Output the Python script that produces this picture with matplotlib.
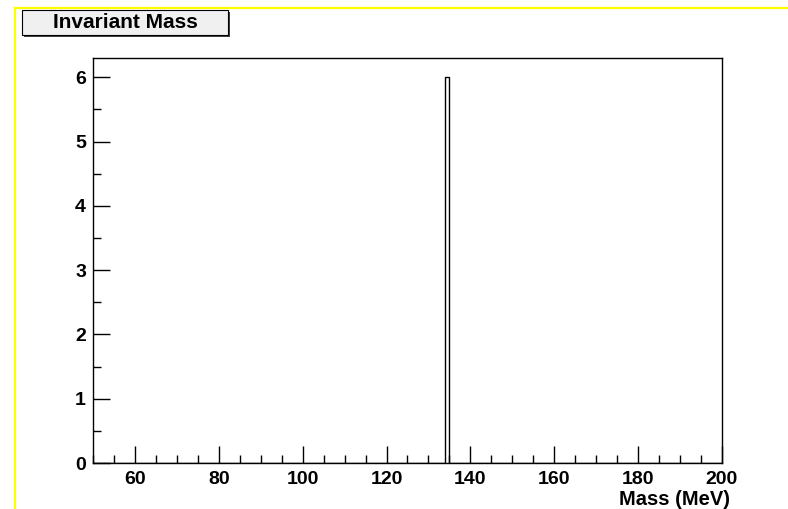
import matplotlib
matplotlib.use("Agg")
import matplotlib.pyplot as plt
import numpy as np
from matplotlib.patches import Rectangle
from matplotlib.lines import Line2D
from matplotlib.ticker import MultipleLocator

# histogram: 1 MeV bins from 50 to 200, all entries in the 134-135 bin
bin_edges = np.arange(50, 201, 1)
counts = np.zeros(len(bin_edges) - 1)
peak_bin = 134
peak_count = 6
counts[peak_bin - 50] = peak_count

title = "Invariant Mass"
xlabel = "Mass (MeV)"

W, H = 788, 509
fig = plt.figure(figsize=(W / 100, H / 100), dpi=100)
plt.rcParams['font.family'] = ['Liberation Sans', 'DejaVu Sans']

# yellow pad frame
fig.add_artist(Line2D([15 / W, 1], [1 - 8 / H, 1 - 8 / H], color='#ffff00', lw=1.6))
fig.add_artist(Line2D([15 / W, 15 / W], [0, 1 - 8 / H], color='#ffff00', lw=1.6))

ax = fig.add_axes([93 / W, 46 / H, (722 - 93) / W, (463 - 58) / H])
ax.stairs(counts, bin_edges, color='black', lw=1)
ax.set_xlim(50, 200)
ax.set_ylim(0, 6.3)

ax.xaxis.set_major_locator(MultipleLocator(20))
ax.xaxis.set_minor_locator(MultipleLocator(5))
ax.yaxis.set_major_locator(MultipleLocator(1))
ax.yaxis.set_minor_locator(MultipleLocator(0.5))
ax.tick_params(which='both', direction='in', top=False, right=False, width=1)
ax.tick_params(which='major', length=12, labelsize=14, pad=5)
ax.tick_params(axis='x', which='major', pad=6)
ax.tick_params(which='minor', length=6)
for lab in ax.get_xticklabels() + ax.get_yticklabels():
    lab.set_fontweight('bold')
for s in ax.spines.values():
    s.set_linewidth(1)

fig.text(730 / W, 1 - 505 / H, xlabel, ha='right', va='baseline',
         fontsize=14.5, fontweight='bold')

# title box with shadow
fig.add_artist(Rectangle((24 / W, 1 - 37 / H), 206 / W, 25 / H,
                         facecolor='#404040', edgecolor='none'))
fig.add_artist(Rectangle((22 / W, 1 - 35 / H), 206 / W, 25 / H,
                         facecolor='#f0f0f0', edgecolor='black', lw=0.8))
fig.text(125 / W, 1 - 23 / H, title, ha='center', va='center',
         fontsize=15, fontweight='bold')

fig.savefig("out.png", dpi=100)
